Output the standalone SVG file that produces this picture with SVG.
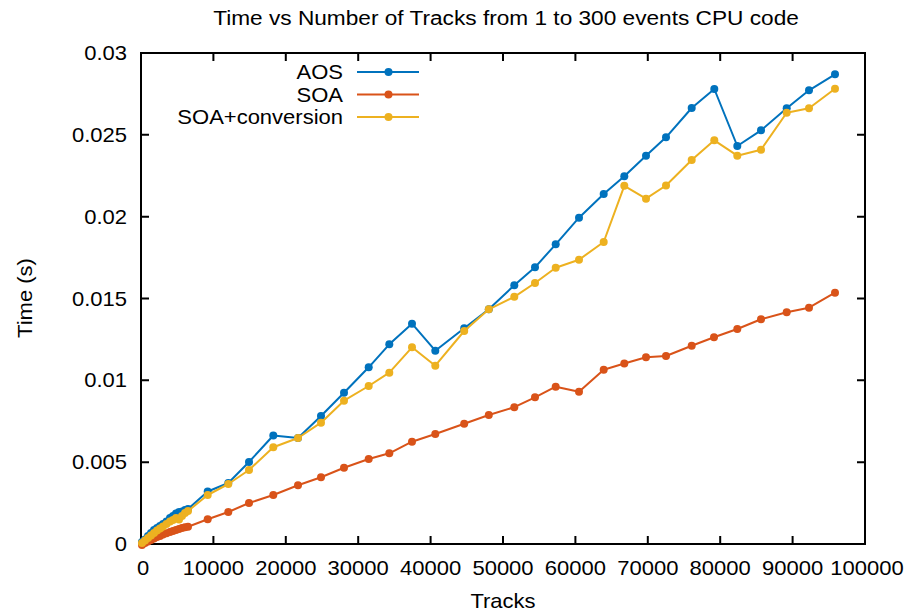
<svg xmlns="http://www.w3.org/2000/svg" width="907" height="615" viewBox="0 0 907 615">
<style>
text{font-family:"Liberation Sans",Arial,sans-serif;font-size:20px;fill:#000}
.frame{fill:none;stroke:#000;stroke-width:2}
.tick{stroke:#000;stroke-width:2}
.s{fill:none;stroke-width:2;stroke-linejoin:round}
.aos{stroke:#0072bd}.soa{stroke:#d95319}.conv{stroke:#edb120}
</style>
<defs>
<marker id="mA" markerUnits="userSpaceOnUse" markerWidth="10" markerHeight="10" refX="5" refY="5" overflow="visible"><circle cx="5" cy="5" r="4" fill="#0072bd"/></marker>
<marker id="mS" markerUnits="userSpaceOnUse" markerWidth="10" markerHeight="10" refX="5" refY="5" overflow="visible"><circle cx="5" cy="5" r="4" fill="#d95319"/></marker>
<marker id="mC" markerUnits="userSpaceOnUse" markerWidth="10" markerHeight="10" refX="5" refY="5" overflow="visible"><circle cx="5" cy="5" r="4" fill="#edb120"/></marker>
</defs>
<rect width="907" height="615" fill="#fff"/>
<g id="title"><text transform="translate(506 25) scale(1.1 1)" text-anchor="middle" style="font-size:20.6px">Time vs Number of Tracks from 1 to 300 events CPU code</text></g>
<g id="axes">
<rect class="frame" x="141" y="53" width="724" height="491"/>
<path class="tick" d="M213.4 544v-8M285.8 544v-8M358.2 544v-8M430.6 544v-8M503 544v-8M575.4 544v-8M647.8 544v-8M720.2 544v-8M792.6 544v-8M213.4 53v8M285.8 53v8M358.2 53v8M430.6 53v8M503 53v8M575.4 53v8M647.8 53v8M720.2 53v8M792.6 53v8M141 462.2h8M141 380.3h8M141 298.5h8M141 216.7h8M141 134.8h8M865 462.2h-8M865 380.3h-8M865 298.5h-8M865 216.7h-8M865 134.8h-8"/>
<g text-anchor="end">
<text transform="translate(127 551) scale(1.1 1)">0</text>
<text transform="translate(127 469.2) scale(1.1 1)">0.005</text>
<text transform="translate(127 387.3) scale(1.1 1)">0.01</text>
<text transform="translate(127 305.5) scale(1.1 1)">0.015</text>
<text transform="translate(127 223.7) scale(1.1 1)">0.02</text>
<text transform="translate(127 141.8) scale(1.1 1)">0.025</text>
<text transform="translate(127 60) scale(1.1 1)">0.03</text>
</g>
<g text-anchor="middle">
<text transform="translate(143 575) scale(1.1 1)">0</text>
<text transform="translate(213.4 575) scale(1.1 1)">10000</text>
<text transform="translate(285.8 575) scale(1.1 1)">20000</text>
<text transform="translate(358.2 575) scale(1.1 1)">30000</text>
<text transform="translate(430.6 575) scale(1.1 1)">40000</text>
<text transform="translate(503 575) scale(1.1 1)">50000</text>
<text transform="translate(575.4 575) scale(1.1 1)">60000</text>
<text transform="translate(647.8 575) scale(1.1 1)">70000</text>
<text transform="translate(720.2 575) scale(1.1 1)">80000</text>
<text transform="translate(792.6 575) scale(1.1 1)">90000</text>
<text transform="translate(867 575) scale(1.1 1)">100000</text>
<text transform="translate(503 608) scale(1.1 1)">Tracks</text>
<text transform="translate(32 298) rotate(-90) scale(1.1 1)">Time (s)</text>
</g>
</g>
<g id="series">
<polyline id="aos" class="s aos" marker-start="url(#mA)" marker-mid="url(#mA)" marker-end="url(#mA)" points="142,542 145,539.5 148,536 151,533 154,530 157,528 160,526 163,524 166.5,521.5 170,518 173,516 176,513.5 179,512 182,511.5 185,510 188,509 207.7,491.5 228.3,483 249,462 273.3,435.5 298,438 321,416 344,392.7 368.7,367.3 389.3,344.3 412,323.7 435.3,350.7 464.2,328.3 488.8,309.3 514.3,285.2 535,267.3 555.7,244.3 579,217.7 603.7,194 624.3,176.3 646,155.7 666,137.3 691.7,108 714.3,89 737.3,146 761,130.3 786.7,108.3 809,90.3 835,74.3"/>
<polyline id="soa" class="s soa" marker-start="url(#mS)" marker-mid="url(#mS)" marker-end="url(#mS)" points="142,545 145,543 148,541.5 151,540 154,538.5 157,537 160,536 163,534.5 166.5,533.3 170,532 173,531 176,530 179,529 182,528 185,527.3 188,526.7 207.7,519.3 228.3,512 249,503 273.3,495 298,485.3 321,477.2 344,467.8 368.7,459 389.3,453.3 412,441.7 435.3,434 464.2,423.7 488.8,415 514.3,407.2 535,397.3 555.7,386.7 579,391.7 603.7,369.7 624.3,363.5 646,357.3 666,356 691.7,345.7 714,337.3 737.3,329 761,319.3 786.7,312.3 809,307.7 835,292.7"/>
<polyline id="conv" class="s conv" marker-start="url(#mC)" marker-mid="url(#mC)" marker-end="url(#mC)" points="142,543 145,540.5 148,538 151,535.5 154,533 157,530.5 160,528.5 163,526.5 166.5,524 170,521.5 173,520 176,518 179,519.5 182,516 185,513 188,511 207.7,495 228.3,484 249,470 273.3,447.3 298,438 321,422.7 344,400.7 368.7,386 389.3,372.7 412,347.3 435.3,365.7 464.2,331 488.8,309.3 514.3,296.8 535,283 555.7,267.7 579,259.7 603.7,242 624.3,185.8 646,198.7 666,185.5 691.7,160 714.3,140.3 737.3,155.7 761,149.7 786.7,112.7 809,108.3 835,88.7"/>
</g>
<g id="legend">
<g text-anchor="end">
<text transform="translate(343 79) scale(1.1 1)">AOS</text>
<text transform="translate(343 101.5) scale(1.1 1)">SOA</text>
<text transform="translate(343 124) scale(1.1 1)">SOA+conversion</text>
</g>
<path class="s aos" d="M357 72H419"/><circle cx="388.5" cy="72" r="4" fill="#0072bd"/>
<path class="s soa" d="M357 94.5H419"/><circle cx="388.5" cy="94.5" r="4" fill="#d95319"/>
<path class="s conv" d="M357 117H419"/><circle cx="388.5" cy="117" r="4" fill="#edb120"/>
</g>
</svg>
